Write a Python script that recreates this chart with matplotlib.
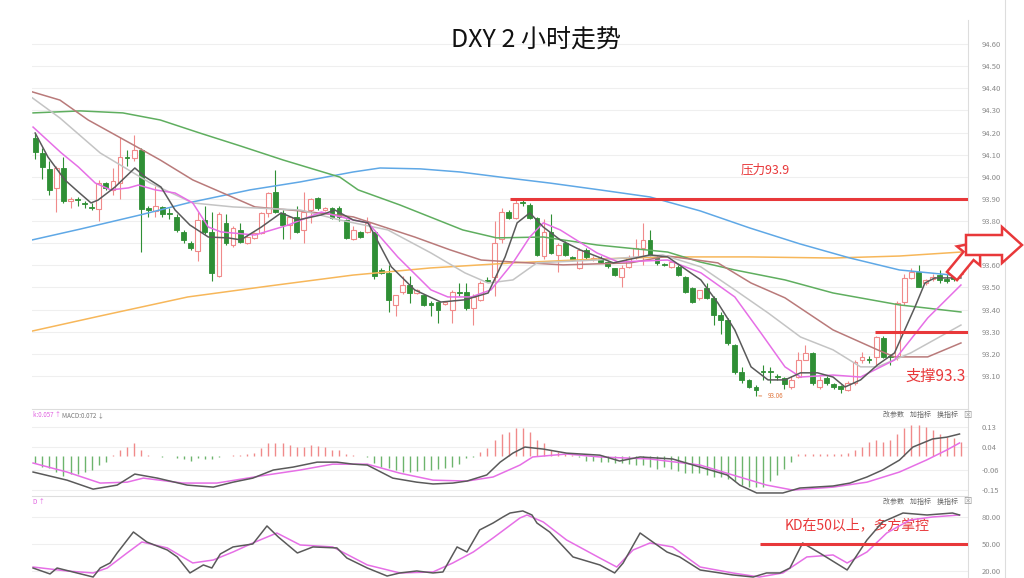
import numpy as np
import matplotlib
matplotlib.use('Agg')
import matplotlib.pyplot as plt
from matplotlib.patches import FancyArrow
from matplotlib.lines import Line2D
from matplotlib.transforms import IdentityTransform

plt.rcParams['font.family'] = ['Noto Sans CJK SC', 'DejaVu Sans']

# 2-hour DXY candles (open, high, low, close)
opens = [94.176, 94.110, 94.035, 93.950, 94.040, 93.890, 93.900, 93.880, 93.865, 93.855,
         93.970, 93.940, 93.970, 94.090, 94.085, 94.120, 93.860, 93.845, 93.865, 93.835,
         93.820, 93.750, 93.700, 93.665, 93.805, 93.750, 93.550, 93.790, 93.690, 93.760,
         93.700, 93.725, 93.745, 93.837, 93.932, 93.837, 93.782, 93.820, 93.760, 93.850,
         93.905, 93.850, 93.860, 93.860, 93.805, 93.720, 93.750, 93.750, 93.750, 93.580,
         93.566, 93.420, 93.480, 93.510, 93.475, 93.466, 93.430, 93.434, 93.425, 93.398,
         93.480, 93.480, 93.407, 93.444, 93.535, 93.545, 93.720, 93.840, 93.814, 93.885,
         93.873, 93.814, 93.640, 93.750, 93.647, 93.700, 93.638, 93.590, 93.670, 93.630,
         93.633, 93.615, 93.588, 93.547, 93.593, 93.638, 93.679, 93.715, 93.638, 93.605,
         93.593, 93.593, 93.547, 93.498, 93.453, 93.498, 93.453, 93.376, 93.353, 93.240,
         93.118, 93.082, 93.050, 93.120, 93.120, 93.097, 93.090, 93.050, 93.095, 93.172,
         93.204, 93.050, 93.091, 93.064, 93.055, 93.037, 93.068, 93.172, 93.175, 93.186,
         93.272, 93.190, 93.186, 93.434, 93.543, 93.570, 93.520, 93.540, 93.556, 93.540,
         93.545, 93.560]
highs = [94.198, 94.130, 94.070, 94.050, 94.090, 93.910, 93.910, 93.890, 93.880, 93.985,
         93.975, 94.040, 94.180, 94.120, 94.190, 94.130, 93.870, 93.960, 93.870, 93.860,
         93.830, 93.760, 93.710, 93.840, 93.870, 93.840, 93.840, 93.830, 93.780, 93.790,
         93.740, 93.750, 93.840, 93.930, 94.030, 93.850, 93.825, 93.870, 93.930, 93.905,
         93.910, 93.865, 93.865, 93.870, 93.810, 93.780, 93.755, 93.820, 93.750, 93.590,
         93.600, 93.466, 93.550, 93.550, 93.495, 93.470, 93.440, 93.434, 93.440, 93.490,
         93.520, 93.520, 93.470, 93.530, 93.545, 93.800, 93.860, 93.850, 93.900, 93.900,
         93.880, 93.820, 93.810, 93.830, 93.700, 93.710, 93.640, 93.680, 93.680, 93.640,
         93.640, 93.620, 93.590, 93.600, 93.645, 93.720, 93.790, 93.760, 93.640, 93.610,
         93.620, 93.600, 93.550, 93.500, 93.490, 93.520, 93.460, 93.390, 93.360, 93.245,
         93.140, 93.085, 93.060, 93.150, 93.140, 93.110, 93.095, 93.100, 93.210, 93.240,
         93.210, 93.100, 93.100, 93.070, 93.060, 93.075, 93.170, 93.210, 93.190, 93.280,
         93.280, 93.200, 93.440, 93.560, 93.590, 93.600, 93.540, 93.560, 93.580, 93.560,
         93.560, 93.620]
lows = [94.080, 93.990, 93.920, 93.840, 93.880, 93.860, 93.870, 93.860, 93.850, 93.800,
        93.940, 93.920, 93.900, 94.050, 94.070, 93.660, 93.820, 93.820, 93.820, 93.810,
        93.750, 93.700, 93.670, 93.620, 93.740, 93.530, 93.545, 93.690, 93.685, 93.700,
        93.695, 93.720, 93.740, 93.820, 93.835, 93.720, 93.720, 93.745, 93.700, 93.790,
        93.850, 93.845, 93.810, 93.800, 93.720, 93.715, 93.725, 93.745, 93.540, 93.560,
        93.389, 93.370, 93.470, 93.430, 93.470, 93.415, 93.370, 93.340, 93.420, 93.340,
        93.460, 93.400, 93.330, 93.440, 93.525, 93.460, 93.700, 93.810, 93.810, 93.870,
        93.810, 93.640, 93.630, 93.650, 93.570, 93.640, 93.620, 93.585, 93.630, 93.620,
        93.610, 93.590, 93.550, 93.500, 93.590, 93.630, 93.600, 93.640, 93.600, 93.595,
        93.590, 93.550, 93.475, 93.430, 93.445, 93.450, 93.330, 93.290, 93.240, 93.110,
        93.070, 93.045, 93.010, 93.080, 93.070, 93.080, 93.040, 93.040, 93.090, 93.170,
        93.060, 93.040, 93.060, 93.040, 93.025, 93.030, 93.060, 93.160, 93.160, 93.150,
        93.180, 93.150, 93.170, 93.420, 93.540, 93.500, 93.510, 93.530, 93.520, 93.520,
        93.530, 93.550]
closes = [94.112, 94.045, 93.940, 94.040, 93.890, 93.900, 93.895, 93.875, 93.860, 93.970,
          93.950, 93.980, 94.090, 94.085, 94.120, 93.855, 93.850, 93.870, 93.830, 93.830,
          93.760, 93.715, 93.680, 93.805, 93.750, 93.566, 93.830, 93.700, 93.770, 93.706,
          93.730, 93.745, 93.837, 93.927, 93.841, 93.782, 93.819, 93.750, 93.840, 93.900,
          93.860, 93.860, 93.814, 93.820, 93.724, 93.760, 93.730, 93.790, 93.550, 93.566,
          93.444, 93.466, 93.510, 93.475, 93.490, 93.421, 93.421, 93.398, 93.434, 93.480,
          93.476, 93.407, 93.457, 93.520, 93.530, 93.700, 93.840, 93.814, 93.882, 93.880,
          93.814, 93.647, 93.750, 93.656, 93.692, 93.647, 93.624, 93.670, 93.638, 93.635,
          93.615, 93.597, 93.556, 93.588, 93.638, 93.679, 93.715, 93.647, 93.611, 93.600,
          93.615, 93.556, 93.480, 93.434, 93.489, 93.453, 93.376, 93.353, 93.249, 93.118,
          93.082, 93.050, 93.037, 93.118, 93.118, 93.095, 93.064, 93.082, 93.172, 93.204,
          93.068, 93.082, 93.068, 93.050, 93.040, 93.068, 93.163, 93.186, 93.172, 93.276,
          93.186, 93.186, 93.430, 93.543, 93.570, 93.502, 93.534, 93.545, 93.534, 93.530,
          93.540, 93.610]

# moving averages, sampled along the chart (bar index, price)
ma5_x = [0, 1.8, 4.2, 6.1, 7.9, 8.9, 11.3, 14.1, 15.6, 17.8, 19.8, 21.9, 24.5, 27.3, 29.1,
         32.0, 34.8, 37.2, 40.5, 42.4, 45.0, 47.1, 50.4, 53.7, 57.4, 60.8, 64.1, 66.5, 68.2,
         70.0, 71.9, 74.3, 77.1, 81.8, 87.0, 89.5, 94.2, 96.6, 99.0, 101.3, 103.7, 106.1,
         108.3, 110.7, 112.9, 114.6, 116.8, 119.2, 121.6, 124.5, 125.9, 127.3, 131.0]
ma5_y = [94.198, 94.090, 93.986, 93.932, 93.882, 93.895, 93.954, 94.040, 93.999, 93.954,
         93.850, 93.782, 93.728, 93.724, 93.715, 93.773, 93.837, 93.805, 93.828, 93.850,
         93.805, 93.792, 93.593, 93.489, 93.434, 93.444, 93.475, 93.638, 93.792, 93.837,
         93.773, 93.715, 93.670, 93.611, 93.647, 93.638, 93.534, 93.430, 93.308, 93.141,
         93.082, 93.082, 93.114, 93.114, 93.095, 93.050, 93.082, 93.150, 93.204, 93.412,
         93.520, 93.543, 93.543]
ma10_x = [-0.3, 3.7, 6.1, 8.5, 10.7, 13.2, 14.6, 17.0, 19.8, 22.3, 24.5, 26.3, 31.1, 35.8,
          40.5, 45.0, 47.1, 51.3, 56.0, 58.4, 61.7, 64.5, 67.6, 70.0, 71.9, 74.3, 79.5, 82.5,
          89.5, 94.2, 99.0, 102.7, 106.1, 108.3, 112.9, 116.8, 121.6, 126.3, 131.0]
ma10_y = [94.225, 94.108, 94.045, 93.972, 93.941, 93.950, 93.963, 93.941, 93.927, 93.882,
          93.773, 93.751, 93.737, 93.782, 93.841, 93.805, 93.792, 93.638, 93.489, 93.457,
          93.457, 93.489, 93.611, 93.728, 93.792, 93.760, 93.656, 93.615, 93.624, 93.566,
          93.457, 93.294, 93.141, 93.095, 93.104, 93.095, 93.172, 93.362, 93.511]
ma20_x = [-0.4, 3.5, 9.2, 16.3, 22.3, 28.0, 37.5, 43.1, 49.9, 56.0, 60.8, 64.1, 67.6, 71.0,
          79.5, 88.8, 94.2, 99.0, 103.7, 108.3, 112.9, 116.8, 119.2, 123.9, 131.0]
ma20_y = [94.357, 94.266, 94.108, 93.972, 93.882, 93.864, 93.850, 93.805, 93.760, 93.656,
          93.566, 93.520, 93.534, 93.611, 93.624, 93.647, 93.593, 93.489, 93.385, 93.276,
          93.218, 93.141, 93.141, 93.204, 93.330]
ma30_x = [-0.4, 3.5, 7.5, 13.9, 17.7, 22.3, 26.2, 31.1, 37.5, 45.0, 53.7, 58.7, 63.1, 67.6,
          74.7, 84.2, 89.5, 96.6, 101.3, 106.1, 112.9, 119.2, 121.6, 126.3, 131.0]
ma30_y = [94.384, 94.347, 94.257, 94.144, 94.076, 93.986, 93.932, 93.864, 93.846, 93.819,
          93.728, 93.670, 93.624, 93.615, 93.602, 93.611, 93.642, 93.611, 93.520, 93.453,
          93.308, 93.218, 93.186, 93.186, 93.249]
ma60_x = [-0.3, 6.4, 12.4, 17.7, 23.3, 29.0, 35.1, 43.1, 45.7, 51.6, 60.5, 65.3, 71.9, 79.5,
          89.5, 94.1, 99.0, 106.1, 112.9, 122.3, 131.0]
ma60_y = [94.289, 94.298, 94.289, 94.257, 94.198, 94.140, 94.076, 93.999, 93.941, 93.873,
          93.760, 93.724, 93.728, 93.692, 93.660, 93.615, 93.579, 93.534, 93.475, 93.421,
          93.389]
ma120_x = [-0.4, 6.4, 14.9, 21.6, 30.4, 37.5, 45.0, 48.8, 54.5, 60.1, 65.8, 72.8, 79.9,
           87.0, 94.1, 101.1, 108.2, 115.3, 122.3, 131.0]
ma120_y = [93.715, 93.764, 93.828, 93.882, 93.941, 93.977, 94.022, 94.040, 94.036, 94.022,
           93.999, 93.972, 93.941, 93.909, 93.846, 93.769, 93.697, 93.633, 93.579, 93.552]
ma250_x = [-0.4, 9.2, 21.6, 33.2, 45.0, 55.9, 67.6, 79.9, 89.5, 101.1, 112.9, 122.3, 131.0]
ma250_y = [93.303, 93.371, 93.457, 93.507, 93.556, 93.588, 93.611, 93.629, 93.638, 93.638,
           93.633, 93.642, 93.660]

# MACD histogram, one value per bar
macd_hist = [-0.031, -0.049, -0.053, -0.071, -0.089, -0.080, -0.080, -0.071, -0.062, -0.040,
             -0.027, 0.005, 0.027, 0.040, 0.058, 0.027, 0.005, 0.002, -0.002, 0.002,
             -0.010, -0.015, -0.020, -0.010, -0.015, -0.012, -0.003, 0.002, 0.004, 0.006,
             0.010, 0.015, 0.035, 0.058, 0.058, 0.058, 0.050, 0.040, 0.040, 0.050,
             0.045, 0.040, 0.027, 0.027, 0.010, 0.003, 0.002, -0.003, -0.031, -0.049,
             -0.053, -0.062, -0.071, -0.071, -0.067, -0.062, -0.062, -0.058, -0.053, -0.049,
             -0.035, -0.010, -0.005, 0.018, 0.036, 0.071, 0.100, 0.107, 0.125, 0.125,
             0.107, 0.071, 0.058, 0.027, 0.018, 0.009, 0.004, -0.004, -0.020, -0.020,
             -0.025, -0.027, -0.030, -0.030, -0.035, -0.040, -0.040, -0.049, -0.058, -0.049,
             -0.058, -0.067, -0.076, -0.076, -0.076, -0.085, -0.093, -0.093, -0.102, -0.111,
             -0.128, -0.138, -0.138, -0.138, -0.111, -0.084, -0.058, -0.027, 0.009, 0.009,
             0.009, 0.009, 0.009, 0.009, 0.009, 0.015, 0.027, 0.040, 0.062, 0.071,
             0.062, 0.071, 0.100, 0.125, 0.138, 0.138, 0.129, 0.116, 0.100, 0.084,
             0.080, 0.062]
dif_x = [-0.3, 4.5, 8.2, 11.6, 14.1, 17.3, 21.5, 25.2, 28.0, 30.8, 33.7, 36.5, 39.9, 42.7,
         45.0, 47.0, 50.6, 54.0, 56.3, 59.1, 61.1, 63.9, 65.8, 67.6, 69.3, 71.9, 75.2, 79.9,
         82.7, 85.6, 90.2, 94.1, 97.9, 99.7, 102.1, 105.8, 108.2, 112.9, 115.3, 117.7, 119.9,
         122.3, 124.2, 127.0, 129.0, 130.8]
dif_y = [-0.071, -0.107, -0.147, -0.129, -0.080, -0.098, -0.129, -0.138, -0.116, -0.098,
         -0.062, -0.049, -0.027, -0.027, -0.036, -0.040, -0.098, -0.116, -0.124, -0.120,
         -0.111, -0.084, -0.027, 0.013, 0.040, 0.031, 0.013, 0.004, -0.022, -0.004,
         -0.013, -0.049, -0.084, -0.129, -0.164, -0.164, -0.142, -0.133, -0.120, -0.093,
         -0.062, -0.018, 0.040, 0.076, 0.084, 0.098]
dea_x = [-0.3, 4.5, 9.2, 13.0, 15.3, 20.9, 25.7, 32.8, 37.5, 42.1, 47.0, 51.6, 56.3, 61.1,
         64.8, 68.6, 70.4, 75.2, 79.9, 87.0, 94.1, 98.7, 103.5, 107.2, 112.9, 117.7, 122.3,
         126.1, 129.0, 130.8]
dea_y = [-0.031, -0.071, -0.120, -0.116, -0.098, -0.120, -0.120, -0.084, -0.062, -0.036,
         -0.036, -0.076, -0.107, -0.111, -0.093, -0.040, -0.004, 0.009, -0.004, -0.013,
         -0.040, -0.084, -0.129, -0.151, -0.138, -0.116, -0.071, -0.018, 0.027, 0.058]

# KD
k_x = [-0.3, 2.1, 3.1, 8.2, 9.2, 10.6, 11.6, 13.9, 15.8, 18.7, 20.1, 21.9, 23.8, 25.0, 26.2,
       28.0, 30.8, 32.8, 34.4, 37.1, 39.3, 42.7, 44.1, 47.0, 49.8, 51.6, 54.0, 56.3, 57.7,
       59.7, 61.1, 62.9, 64.8, 66.2, 67.2, 69.0, 70.3, 71.0, 72.8, 76.1, 79.9, 82.0, 83.2,
       85.6, 87.0, 89.4, 91.2, 94.1, 96.9, 98.7, 101.6, 103.5, 105.4, 106.8, 108.6, 111.0,
       114.9, 117.7, 119.9, 122.8, 126.2, 129.8, 130.8]
k_y = [23.3, 16.7, 23.3, 13.3, 23.3, 28.9, 40.0, 63.3, 52.2, 43.3, 35.6, 17.8, 26.7, 23.3,
       38.9, 46.7, 50.0, 70.0, 57.8, 40.0, 46.7, 45.6, 34.4, 23.3, 14.4, 17.8, 20.0, 17.8,
       18.9, 46.7, 41.1, 65.6, 73.3, 80.0, 84.4, 86.7, 82.2, 73.3, 63.3, 35.6, 26.7, 17.8,
       28.9, 62.2, 54.4, 41.1, 35.6, 21.1, 17.8, 15.6, 13.3, 17.8, 17.8, 23.3, 51.1, 40.0,
       21.1, 54.4, 74.4, 84.4, 82.2, 84.4, 82.2]
d_x = [-0.3, 4.5, 8.2, 10.2, 13.0, 15.1, 18.7, 22.3, 25.2, 28.0, 30.8, 34.2, 37.5, 42.1,
       47.0, 51.6, 56.3, 59.1, 62.0, 64.8, 68.6, 69.6, 71.9, 75.2, 79.9, 82.3, 84.6, 87.0,
       90.2, 94.1, 98.7, 102.5, 105.8, 109.2, 112.9, 114.9, 117.7, 120.5, 123.8, 127.0, 130.8]
d_y = [24.4, 20.0, 17.8, 23.3, 40.0, 52.2, 45.6, 28.9, 32.2, 41.1, 51.1, 62.2, 48.9, 46.7,
       26.7, 17.8, 18.9, 28.9, 41.1, 56.7, 78.9, 82.2, 74.4, 54.4, 34.4, 24.4, 43.3, 51.1,
       46.7, 24.4, 17.8, 13.3, 17.8, 35.6, 37.8, 28.9, 41.1, 62.2, 76.7, 80.0, 82.2]

resistance = 93.9
resistance_from = 67.2
support = 93.3
support_from = 118.8
kd_level = 50
kd_level_from = 102.5
low_label = '93.06'
low_bar = 102

main_ticks = np.round(np.arange(93.1, 94.61, 0.1), 2)
macd_ticks = [0.13, 0.04, -0.06, -0.15]
kd_ticks = [80, 50, 20]

W, H = 1024, 578
RED = '#e8383a'
UP = '#f08a8a'
DOWN = '#2f8f35'
GRID = '#efefef'
TICKC = '#8a8a8a'


def box(x0, y0, x1, y1):
    return [x0 / W, 1 - y1 / H, (x1 - x0) / W, (y1 - y0) / H]


fig = plt.figure(figsize=(W / 100, H / 100), dpi=100)
ax = fig.add_axes(box(32, 20, 968, 408))
ax_macd = fig.add_axes(box(32, 409, 968, 495))
ax_kd = fig.add_axes(box(32, 496, 968, 578))

for a in (ax, ax_macd, ax_kd):
    a.set_xlim(-0.45, 132.0)
    a.set_xticks([])
    for s in ('left', 'bottom'):
        a.spines[s].set_visible(False)
    a.spines['top'].set_color('#dddddd')
    a.spines['right'].set_color('#dddddd')
    a.yaxis.tick_right()
    a.tick_params(axis='y', length=0, pad=10, labelsize=5.5, labelcolor=TICKC)
    a.grid(axis='y', color=GRID, lw=0.8)
    a.set_axisbelow(True)
ax.spines['top'].set_visible(False)

# --- price panel
ax.set_ylim(92.955, 94.709)
ax.set_yticks(main_ticks)
ax.set_yticklabels(['%.2f' % t for t in main_ticks])

idx = np.arange(len(opens))
o = np.array(opens); c = np.array(closes)
hi = np.array(highs); lo = np.array(lows)
up = c >= o
cols = np.where(up, UP, DOWN)
ax.vlines(idx, lo, hi, colors=cols, lw=0.8, zorder=3)
body = np.maximum(np.abs(c - o), 0.004)
bottom = np.minimum(o, c)
ax.bar(idx[up], body[up], bottom=bottom[up], width=0.68, facecolor='white',
       edgecolor=UP, lw=0.8, zorder=4)
ax.bar(idx[~up], body[~up], bottom=bottom[~up], width=0.68, facecolor=DOWN,
       edgecolor=DOWN, lw=0.6, zorder=4)

ax.plot(ma250_x, ma250_y, color='#f7b75a', lw=1.1, zorder=5)
ax.plot(ma120_x, ma120_y, color='#5fa8e6', lw=1.1, zorder=5)
ax.plot(ma60_x, ma60_y, color='#5fae5f', lw=1.1, zorder=5)
ax.plot(ma30_x, ma30_y, color='#b97a7a', lw=1.1, zorder=5)
ax.plot(ma20_x, ma20_y, color='#c4c4c4', lw=1.1, zorder=5)
ax.plot(ma10_x, ma10_y, color='#e66fe6', lw=1.1, zorder=5)
ax.plot(ma5_x, ma5_y, color='#5a5a5a', lw=1.1, zorder=5)

ax.hlines(resistance, resistance_from, 132.0, color=RED, lw=2.2, zorder=6)
ax.hlines(support, support_from, 132.0, color=RED, lw=2.2, zorder=6)
ax.text(103.3, 94.03, '压力93.9', color=RED, fontsize=9, ha='center', va='center')
ax.text(127.4, 93.10, '支撑93.3', color=RED, fontsize=11, ha='center', va='center')
ax.annotate(low_label, xy=(low_bar, lows[low_bar]), xytext=(103.6, 93.008),
            fontsize=4.5, color='#e0743a', va='center',
            arrowprops=dict(arrowstyle='-', color='#e0743a', lw=0.6))

# --- MACD panel
ax_macd.set_ylim(-0.173, 0.209)
ax_macd.set_yticks(macd_ticks)
ax_macd.set_yticklabels(['%.2f' % t for t in macd_ticks])
mh = np.array(macd_hist)
ax_macd.vlines(idx, 0, mh, colors=np.where(mh >= 0, UP, '#6cb46c'), lw=1.0, zorder=3)
ax_macd.plot(dea_x, dea_y, color='#e66fe6', lw=1.1, zorder=4)
ax_macd.plot(dif_x, dif_y, color='#5a5a5a', lw=1.1, zorder=4)

# --- KD panel
ax_kd.set_ylim(12.2, 103.3)
ax_kd.set_yticks(kd_ticks)
ax_kd.set_yticklabels(['%.2f' % t for t in kd_ticks])
ax_kd.plot(d_x, d_y, color='#e66fe6', lw=1.1, zorder=4)
ax_kd.plot(k_x, k_y, color='#5a5a5a', lw=1.1, zorder=4)
ax_kd.hlines(kd_level, kd_level_from, 132.0, color=RED, lw=2.2, zorder=5)
ax_kd.text(106.0, 71, 'KD在50以上，多方掌控', color=RED, fontsize=10, ha='left',
           va='center')

# --- headers and frame
fig.text(536 / W, 1 - 41 / H, 'DXY 2 小时走势', fontsize=18, ha='center', va='center',
         color='#111111')
fig.text(33 / W, 1 - 415 / H, 'k:0.057 ↑', fontsize=4.5, color='#e060e0', va='center')
fig.text(62 / W, 1 - 415 / H, 'MACD:0.072 ↓', fontsize=4.5, color='#777777', va='center')
fig.text(33 / W, 1 - 502 / H, 'D ↑', fontsize=4.5, color='#e060e0', va='center')
for yy in (415, 502):
    fig.text(958 / W, 1 - yy / H, '改参数    加指标    换指标', fontsize=5, color='#666666',
             ha='right', va='center')
    fig.text(967 / W, 1 - yy / H, '⊠', fontsize=6, color='#999999', ha='center',
             va='center')

fig.add_artist(Line2D([1005 / W, 1005 / W], [0, 1], color='#dddddd', lw=0.8))

# hollow red arrows at the right edge
fig.add_artist(FancyArrow(952, 302, 28, 34, width=13, head_width=30, head_length=18,
                          length_includes_head=True, facecolor='white', edgecolor=RED,
                          lw=1.8, transform=IdentityTransform(), zorder=10))
fig.add_artist(FancyArrow(966, 333, 56, 0, width=20, head_width=36, head_length=20,
                          length_includes_head=True, facecolor='white', edgecolor=RED,
                          lw=1.8, transform=IdentityTransform(), zorder=11))

fig.savefig('out.png', dpi=100, facecolor='white')
